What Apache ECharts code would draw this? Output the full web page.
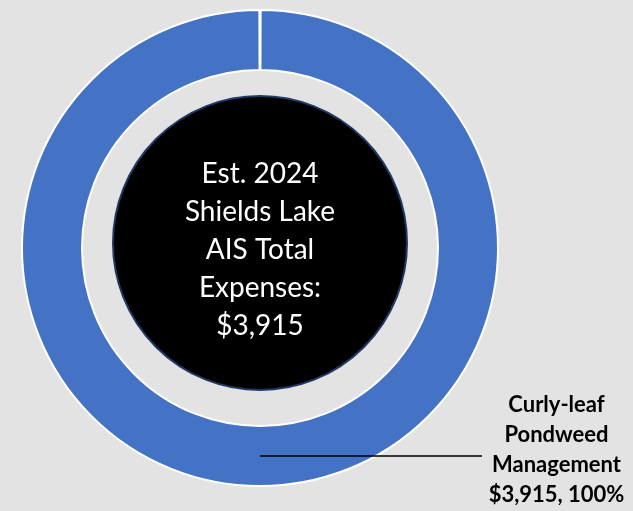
<!DOCTYPE html>
<html>
<head>
<meta charset="utf-8">
<script src="https://cdn.jsdelivr.net/npm/echarts@6/dist/echarts.min.js"></script>
<style>
  html, body { margin: 0; padding: 0; }
  #main { width: 633px; height: 511px; }
</style>
</head>
<body>
<div id="main"></div>
<script>
// expense categories and amounts
const categories = ['Curly-leaf\nPondweed\nManagement'];
const values = [3915];
const centerLines = ['Est. 2024', 'Shields Lake', 'AIS Total', 'Expenses:', '$3,915'];

const pieData = categories.map((c, i) => ({ name: c, value: values[i] }));
const money = v => '$' + v.toLocaleString('en-US');

const chart = echarts.init(document.getElementById('main'));

chart.setOption({
  animation: false,
  backgroundColor: '#e3e3e3',
  series: [
    // white backing so the start gap shows white
    {
      type: 'pie', silent: true, z: 1,
      center: [260, 248], radius: [178, 238],
      itemStyle: { color: '#ffffff' },
      label: { show: false },
      data: [{ name: 'bg', value: 1 }]
    },
    {
      type: 'pie', silent: true, z: 2,
      center: [260, 248], radius: [178, 238],
      startAngle: 90, padAngle: 0.3,
      itemStyle: { color: '#4472c4', borderColor: '#ffffff', borderWidth: 2 },
      label: { show: false },
      data: pieData
    },
    // label + leader line (starts mid ring)
    {
      type: 'pie', silent: true, z: 3,
      center: [260, 248], radius: [0, 208],
      startAngle: 90,
      itemStyle: { color: 'rgba(0,0,0,0)' },
      label: {
        show: true, position: 'outside',
        distanceToLabelLine: 8,
        overflow: 'none',
        formatter: p => (p.name + '\n' + money(p.value) + ', ' + Math.round(p.percent) + '%')
          .split('\n').map(s => '{t|' + s + '}').join('\n'),
        padding: [0, 0, 12, 0],
        rich: {
          t: {
            fontFamily: 'Lato', fontWeight: 'bold', fontSize: 22, lineHeight: 30,
            color: '#000', align: 'center'
          }
        }
      },
      labelLine: { show: true, length: 0, length2: 222, lineStyle: { color: '#000', width: 1.5 } },
      data: pieData
    },
    // black centre with total
    {
      type: 'pie', silent: true, z: 4,
      center: [260, 243], radius: [0, 147],
      itemStyle: { color: '#000000', borderColor: '#1f3864', borderWidth: 2 },
      label: {
        show: true, position: 'center',
        formatter: centerLines.join('\n'),
        fontFamily: 'Lato', fontSize: 28, lineHeight: 38, color: '#ffffff',
        offset: [0, 7]
      },
      data: [{ name: 'total', value: 1 }]
    }
  ]
});
</script>
</body>
</html>
